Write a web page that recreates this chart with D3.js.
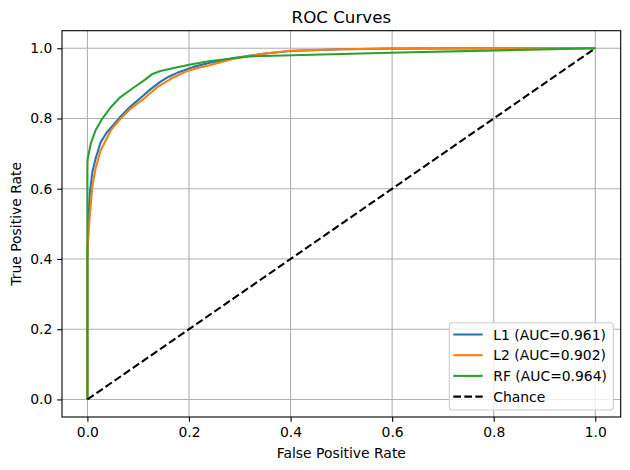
<!DOCTYPE html>
<html>
<head>
<meta charset="utf-8">
<script src="https://cdn.jsdelivr.net/npm/d3@7"></script>
<style>
  body { margin: 0; background: #fff; }
  svg text { font-family: "DejaVu Sans", sans-serif; fill: #000; }
</style>
</head>
<body>
<div id="chart"></div>
<script>
// ROC curve points
const l1Fpr = [0, 0, 0.002, 0.005, 0.01, 0.016, 0.026, 0.038, 0.052, 0.065, 0.079, 0.092, 0.105, 0.124, 0.144, 0.16, 0.177, 0.209, 0.239, 0.288, 0.35, 0.4, 0.5, 0.6, 0.8, 1.0];
const l1Tpr = [0, 0.40, 0.51, 0.59, 0.65, 0.685, 0.732, 0.760, 0.783, 0.805, 0.826, 0.843, 0.859, 0.883, 0.905, 0.919, 0.930, 0.947, 0.958, 0.972, 0.985, 0.992, 0.997, 0.999, 1.0, 1.0];

const l2Fpr = [0, 0, 0.0045, 0.01, 0.016, 0.026, 0.046, 0.065, 0.085, 0.111, 0.1375, 0.164, 0.196, 0.223, 0.239, 0.288, 0.35, 0.399, 0.5, 0.6, 0.8, 1.0];
const l2Tpr = [0, 0.42, 0.52, 0.61, 0.657, 0.709, 0.766, 0.799, 0.828, 0.856, 0.889, 0.913, 0.935, 0.946, 0.951, 0.970, 0.985, 0.993, 0.997, 0.999, 1.0, 1.0];

const rfFpr = [0, 0, 0.0005, 0.0065, 0.016, 0.029, 0.046, 0.065, 0.092, 0.111, 0.128, 0.144, 0.177, 0.203, 0.239, 0.321, 0.616, 1.0];
const rfTpr = [0, 0.665, 0.685, 0.728, 0.766, 0.799, 0.832, 0.861, 0.889, 0.908, 0.927, 0.935, 0.946, 0.954, 0.963, 0.977, 0.988, 1.0];

const chanceFpr = [0, 1];
const chanceTpr = [0, 1];

const seriesNames = ["L1 (AUC=0.961)", "L2 (AUC=0.902)", "RF (AUC=0.964)", "Chance"];
const seriesColors = ["#1f77b4", "#ff7f0e", "#2ca02c", "#000000"];

const xTicks = [0.0, 0.2, 0.4, 0.6, 0.8, 1.0];
const yTicks = [0.0, 0.2, 0.4, 0.6, 0.8, 1.0];

// Layout matches the matplotlib figure
const W = 630, H = 470;
const margin = {top: 30.7, right: 9.3, bottom: 53, left: 62};
const width = W - margin.left - margin.right;
const height = H - margin.top - margin.bottom;

const svg = d3.select("#chart")
    .append("svg")
    .attr("width", W)
    .attr("height", H);

const g = svg.append("g")
    .attr("transform", `translate(${margin.left},${margin.top})`);

const x = d3.scaleLinear().domain([-0.05, 1.05]).range([0, width]);
const y = d3.scaleLinear().domain([-0.05, 1.05]).range([height, 0]);

// Grid
g.append("g")
    .selectAll("line")
    .data(xTicks)
    .enter()
    .append("line")
    .attr("x1", d => x(d)).attr("x2", d => x(d))
    .attr("y1", 0).attr("y2", height)
    .attr("stroke", "#b0b0b0")
    .attr("stroke-width", 1.1);

g.append("g")
    .selectAll("line")
    .data(yTicks)
    .enter()
    .append("line")
    .attr("y1", d => y(d)).attr("y2", d => y(d))
    .attr("x1", 0).attr("x2", width)
    .attr("stroke", "#b0b0b0")
    .attr("stroke-width", 1.1);

// Clip for lines
g.append("clipPath").attr("id", "clip")
    .append("rect").attr("width", width).attr("height", height);

const line = d3.line()
    .x(d => x(d[0]))
    .y(d => y(d[1]));

const series = [
    d3.zip(l1Fpr, l1Tpr),
    d3.zip(l2Fpr, l2Tpr),
    d3.zip(rfFpr, rfTpr),
    d3.zip(chanceFpr, chanceTpr)
];

series.forEach((pts, i) => {
    g.append("path")
        .datum(pts)
        .attr("clip-path", "url(#clip)")
        .attr("fill", "none")
        .attr("stroke", seriesColors[i])
        .attr("stroke-width", 2.08)
        .attr("stroke-linejoin", "round")
        .attr("stroke-dasharray", i === 3 ? "7.7,3.33" : null)
        .attr("d", line);
});

// Axes
const xAxis = g.append("g")
    .attr("transform", `translate(0,${height})`)
    .call(d3.axisBottom(x).tickValues(xTicks).tickFormat(d3.format(".1f")).tickSize(4.86).tickPadding(4.86));

const yAxis = g.append("g")
    .call(d3.axisLeft(y).tickValues(yTicks).tickFormat(d3.format(".1f")).tickSize(4.86).tickPadding(4.86));

[xAxis, yAxis].forEach(a => {
    a.select(".domain").remove();
    a.selectAll(".tick line").attr("stroke", "#000").attr("stroke-width", 1.1);
    a.selectAll(".tick text").style("font-size", "13.9px").attr("fill", "#000");
});

// Frame
g.append("rect")
    .attr("width", width)
    .attr("height", height)
    .attr("fill", "none")
    .attr("stroke", "#000")
    .attr("stroke-width", 1.1);

// Title and labels
svg.append("text")
    .attr("x", margin.left + width / 2)
    .attr("y", 22.6)
    .attr("text-anchor", "middle")
    .style("font-size", "16.7px")
    .text("ROC Curves");

svg.append("text")
    .attr("x", margin.left + width / 2)
    .attr("y", 457.5)
    .attr("text-anchor", "middle")
    .style("font-size", "13.9px")
    .text("False Positive Rate");

svg.append("text")
    .attr("transform", `translate(20.5,${margin.top + height / 2}) rotate(-90)`)
    .attr("text-anchor", "middle")
    .style("font-size", "13.9px")
    .text("True Positive Rate");

// Legend
const legend = svg.append("g")
    .attr("transform", "translate(449.3,322.7)");

legend.append("rect")
    .attr("width", 164)
    .attr("height", 87.3)
    .attr("rx", 3)
    .attr("fill", "#fff")
    .attr("fill-opacity", 0.8)
    .attr("stroke", "#cccccc")
    .attr("stroke-width", 1.1);

seriesNames.forEach((name, i) => {
    const row = legend.append("g")
        .attr("transform", `translate(0,${11.8 + i * 20.7})`);
    row.append("line")
        .attr("x1", 4).attr("x2", 33.4)
        .attr("stroke", seriesColors[i])
        .attr("stroke-width", 2.08)
        .attr("stroke-dasharray", i === 3 ? "7.7,3.33" : null);
    row.append("text")
        .attr("x", 44)
        .attr("dy", "0.36em")
        .style("font-size", "13.9px")
        .text(name);
});
</script>
</body>
</html>
